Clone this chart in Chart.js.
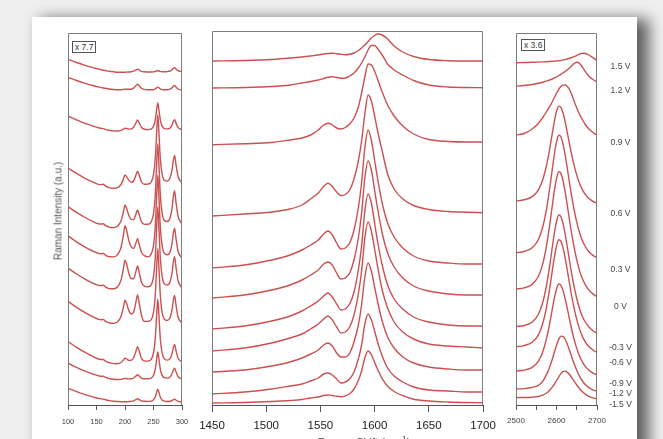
<!DOCTYPE html>
<html><head><meta charset="utf-8">
<script src="https://cdn.jsdelivr.net/npm/chart.js@4.4.1/dist/chart.umd.min.js"></script>
<style>
html,body{margin:0;padding:0;width:663px;height:439px;overflow:hidden;background:#efefef;font-family:"Liberation Sans",Arial,sans-serif;}
#card{position:absolute;left:32px;top:17px;width:605px;height:470px;background:#fff;box-shadow:10px 4px 14px 2px rgba(0,0,0,0.6);}
canvas{position:absolute;}
.box{position:absolute;border:1px solid #555;font-size:8.5px;color:#333;line-height:10px;padding:0 2px;background:#fff;}
.vl{position:absolute;font-size:8.5px;color:#444;transform:translate(-50%,-50%);white-space:nowrap;}
.ylab{position:absolute;left:57.5px;top:211px;transform:translate(-50%,-50%) rotate(-90deg);font-size:10px;color:#555;white-space:nowrap;}
.xlab{position:absolute;left:364px;top:434px;transform:translateX(-50%);font-size:11px;color:#444;white-space:nowrap;}
</style></head><body>
<div id="card"></div>
<canvas id="cL" width="154" height="404" style="left:48px;top:31px"></canvas>
<canvas id="cM" width="311" height="406" style="left:192px;top:29px"></canvas>
<canvas id="cR" width="121" height="404" style="left:496px;top:31px"></canvas>
<div class="box" style="left:72px;top:41px;">x 7.7</div>
<div class="box" style="left:521px;top:39px;">x 3.6</div>
<div class="ylab">Raman Intensity (a.u.)</div>
<div class="xlab">Raman Shift (cm<sup style="font-size:8px">-1</sup>)</div>
<div id="vlabels"></div>
<script>
// ---- categories / tick positions (cm^-1) ----
const lowShift = [100,115,130,145,155,159,162,165,172,180,187,193,197,200,203,207,211,215,219,222,225,229,234,240,246,250,253,255.5,257.5,259.5,262,265,269,274,279,282.5,285,287,289.5,293,300];
const gShift = [1450,1480,1505,1522,1533,1541,1548,1553,1557,1561,1565,1569,1573,1577,1581,1585,1588,1591,1594,1597,1600,1603,1607,1612,1618,1626,1636,1650,1668,1685,1700];
const twoDShift = [2500,2520,2540,2555,2566,2575,2583,2590,2596,2601,2606,2611,2616,2621,2627,2634,2642,2650,2657,2664,2671,2680,2690,2700];
const voltages = ['1.5 V','1.2 V','0.9 V','0.6 V','0.3 V','0 V','-0.3 V','-0.6 V','-0.9 V','-1.2 V','-1.5 V'];

// ---- low-frequency (RBM) region, offset intensities (a.u.) ----
const low_p15 = [345.7,342.5,339.6,337.1,335.7,335.2,334.8,334.5,333.7,333.2,332.8,332.8,332.8,332.8,332.9,333,333.2,333.8,334.9,335.8,335,333.7,333.2,333,333,333.1,333.5,334,334.5,334,333.6,333.3,333.2,333.4,334,335.2,336.8,337.4,336,334.3,333.4];
const low_p12 = [327.7,324.5,321.7,319.3,317.9,317.4,317,316.7,316,315.5,315.3,315.3,315.5,315.7,315.7,315.7,315.9,316.9,319.2,320.9,319.2,316.7,315.6,315.2,315.2,315.4,316,317.1,317.9,317.1,316,315.4,315.2,315.3,315.8,317.2,318.9,319.6,318,316,314.9];
const low_p09 = [289,285.1,281.6,278.7,277,276.6,276.4,275.7,274.8,274.1,274,274.6,275.8,276.8,276.5,275.9,276.1,277.8,281.9,285,282,277.5,275.7,275.4,276.1,278.8,284.7,295.1,302.1,295.1,284.9,279.1,276.4,276.1,277.1,280.1,283.9,285.3,281.9,277.6,275.2];
const low_p06 = [237,231.6,226.7,222.6,220.4,220.4,220.8,219.3,217.4,216.8,217.4,220.5,225.6,230,228.2,224.6,222.8,224,229.5,233.9,229.5,223,220.7,220.9,223.1,230.3,245.5,272.3,290.4,272.6,246.1,231.4,224.7,223.9,226.9,235.1,245.4,249.6,240.3,228.8,222.3];
const low_p03 = [198.4,192.6,187.5,183.1,181,181,181.3,179.8,177.9,177.4,178.9,184.1,192.5,199.7,196.3,189.2,185.6,185.4,190.6,195,190.1,183.1,180.6,180.7,183.1,191.4,209,240.2,261.4,240.5,209.6,192.4,184.5,183.5,187,196.7,209.1,214,202.7,188.9,180.9];
const low_0 = [169.1,163.2,157.9,153.5,151.4,151.3,151.6,150.1,148.2,148.1,150.3,157.5,169.2,179.2,174.2,163.9,158.1,156.6,161.7,166.3,160.6,152.5,149.4,148.1,151.2,159.4,177.1,208.6,229.9,208.7,177.3,159.8,151.6,150.2,153,161.5,172.4,176.7,166.5,154,146.7];
const low_m03 = [136.8,131,125.9,121.5,119.5,119.5,119.8,118.3,116.4,116.2,118.2,124.9,135.7,144.9,140.5,131.3,126.5,126.2,133.1,139,132.3,122.6,118.9,118.3,120.2,128.6,146.1,177.3,198.3,177.4,146.5,129.2,121.1,120,123.1,132.2,143.9,148.4,137.7,124.5,116.9];
const low_m06 = [103.7,97.6,92.3,87.8,85.4,85.3,85.6,84.1,82.1,81.6,83.2,88.5,97.3,104.8,101.3,94.1,91,92.7,102.4,110,101.7,89.5,83.6,83.6,85.3,92.7,108.7,137.3,156.6,137.4,109,93.1,85.7,84.5,87.2,95.2,105.4,109.5,100,88.3,81.5];
const low_m09 = [63.5,57.7,52.6,48.1,45.8,45.5,45.5,44.2,42.3,41.4,41.3,42.5,44.8,46.7,46,44.6,44.8,47.2,53.5,58.3,53.6,46.6,44.1,43.9,45.6,52,65.6,89.7,106,89.8,65.8,52.4,46.1,44.9,46.4,51.4,57.9,60.5,54.4,47,42.8];
const low_m12 = [41.8,37.6,33.9,30.7,29,28.7,28.7,27.8,26.5,25.7,25.5,25.6,26.2,26.6,26.4,26.1,26.2,27,28.9,30.3,28.9,26.9,26.2,26.2,27,29.7,35.6,46,53,46,35.7,29.9,27.3,26.9,28,31.2,35.3,36.9,33.1,28.5,25.7];
const low_m15 = [16.7,13.4,10.4,7.9,6.4,6.1,5.9,5.4,4.4,3.8,3.5,3.3,3.3,3.3,3.3,3.4,3.6,4.2,5.4,6.2,5.4,4.1,3.7,3.6,3.9,5.2,7.9,12.7,15.9,12.7,7.8,5.1,3.8,3.5,3.7,4.4,5.4,5.8,4.8,3.6,2.9];

// ---- G band region ----
const g_p15 = [344,344.5,345.5,347,348,349,350,351,351.5,351.7,351.3,350.6,350.3,350.8,352,354.5,357,360,363.5,367,369.5,371,370,366,359,353,348.5,345.5,344.3,344,344];
const g_p12 = [317,317.5,318.5,320,322,323.5,325,326.5,327.8,328.3,327.5,326.8,327,329,332,337,342,348,355,359.5,359.5,356,350,341,335,330,324.5,320,318,317.5,317.3];
const g_p09 = [260.3,261.3,262.5,265,267,270,275,280,281.7,280,277,276,277.5,281,287,298,312,328,341,340,334,325,313,300,289,279,271,265.5,263.5,263,263];
const g_p06 = [189,191,193,196,200,206,212,218.5,221.7,218.5,213,209.5,210.5,215,226,244,264,291,310,304,289,273,254,231,216,206,199.5,195.5,193.5,192.8,192.3];
const g_p03 = [137,140,145,150,155,160,165,171,174,170,162,156,157,162,175,197,222,257,275,265,245,225,202,182,168,157,149,144,142,141,141];
const g_0 = [107,110,115,120,125,130,135,141,143,140,132,126,127,132,145,167,192,227,244,235,215,195,172,152,138,127,119,114,111,110,110];
const g_m03 = [76,79,84,89,94,99,104,109,112,108,101,95,96,101,113,135,159,194,211,202,182,162,140,120,106,96,88,83,80,79,79];
const g_m06 = [54,57,62,67,71,76,81,86,89,85,78,72,73,78,90,111,134,167,183,174,156,137,115,97,83,73,66,61,59,58,57];
const g_m09 = [33,35,39,43,47,51,55,60,62,59,52,48,48,52,63,80,100,128,142,134,118,102,84,68,57,48,42,38,36,35,35];
const g_m12 = [11,13,16,19,21,24,27,31,32,30,26,22,23,26,33,46,60,81,91,85,74,62,49,37,29,23,18,15,14,13,13];
const g_m15 = [2,2.5,3.5,4.5,5.5,7,8,9.5,10,9.5,8.7,8.3,9.2,11.2,16,24.5,34,47.3,54,50.3,42.7,35,26.4,18.8,13.5,9.3,5.8,4,3,2.5,2.3];

// ---- 2D band region ----
const d_p15 = [342.3,342.5,342.7,342.9,343.1,343.3,343.5,343.7,343.9,344.1,344.3,344.6,345,345.4,346,347,348.2,349.6,350.9,351.7,351.5,350,347.3,344.5];
const d_p12 = [319,319.5,320.5,321.7,322.8,323.8,325,326,327.3,328.3,329.5,330.8,332,333.5,335.2,337.8,341,342.7,341.5,337.8,333.5,328.8,325.5,323.3];
const d_p09 = [270,271.5,276,281.5,287.5,293,298.5,303.5,308.5,312.5,316,318.5,319.8,320,318.5,314,305.5,297,290.5,285.5,280.5,276,272.5,269.5];
const d_p06 = [204,205.2,208.4,214.9,225.2,239,255.7,272.6,286.2,294.9,298.9,297.6,292.2,283.9,271.9,257.2,242.2,229.9,221.5,215.1,210.7,206.6,203.7,201.7];
const d_p03 = [152.3,153.5,157.3,165.3,178,195.2,216,237,254,264.9,269.8,268,261.2,250.8,235.7,217.3,198.3,182.9,172.2,164.2,158.5,153.3,149.6,147];
const d_0 = [116,117.1,120.6,128.5,141.1,158.4,179.3,200.4,217.4,228.2,233.3,231.4,224.5,213.8,198.7,180,160.8,145.1,134.4,126.2,120.4,114.9,111.1,108.3];
const d_m03 = [78.5,79.5,83,90.5,102.5,118.9,138.7,158.8,175,185.3,190,188.3,181.7,171.7,157.3,139.5,121.3,106.5,96.3,88.5,83,78,74.3,71.7];
const d_m06 = [58.3,59.4,62.7,69.9,81.5,97.2,116.1,135.3,150.7,160.6,165.2,163.6,157.3,147.7,133.9,117,99.7,85.6,75.9,68.4,63.2,58.4,55,52.5];
const d_m09 = [34,34.9,37.7,43.6,53,65.8,81.1,96.7,109.3,117.3,121,119.7,114.6,106.9,95.8,82,68,56.6,48.7,42.8,38.6,34.7,31.9,30];
const d_m12 = [16,16.4,17.6,19.7,23.7,30.1,37.8,46.2,54.4,60.8,66.1,68.9,68.7,66,60.5,52.5,43,34.7,28.7,24,20.5,17.4,15.1,13.6];
const d_m15 = [7.5,7.5,7.8,8.5,9.9,11.7,14.8,18.1,21.7,25.1,28.4,31.4,33.3,33.9,32.6,29.5,24.7,20,16.3,13.3,10.9,8.7,7.1,6];

const lowSeries = [low_p15,low_p12,low_p09,low_p06,low_p03,low_0,low_m03,low_m06,low_m09,low_m12,low_m15];
const gSeries = [g_p15,g_p12,g_p09,g_p06,g_p03,g_0,g_m03,g_m06,g_m09,g_m12,g_m15];
const dSeries = [d_p15,d_p12,d_p09,d_p06,d_p03,d_0,d_m03,d_m06,d_m09,d_m12,d_m15];

// ---- styling / layout ----
const LINE = 'rgb(204,80,80)';
const labelTops = [66,90,141.7,213,269,306,346.7,361.7,382.7,393.3,404];

const framePlugin = {
  id:'frame',
  afterDatasetsDraw(chart){
    const {ctx, chartArea:a} = chart;
    ctx.save();
    ctx.strokeStyle = '#7d7d7d'; ctx.lineWidth = 1;
    const l = Math.round(a.left)+0.5, r = Math.round(a.right)-0.5, t = Math.round(a.top)+0.5, b = Math.round(a.bottom);
    ctx.beginPath(); ctx.moveTo(l,b); ctx.lineTo(l,t); ctx.lineTo(r,t); ctx.lineTo(r,b); ctx.stroke();
    ctx.restore();
  }
};

function makeDatasets(xs, series){
  return series.map((ys,i)=>({
    label: voltages[i],
    data: xs.map((x,j)=>({x:x, y:ys[j]})),
    borderColor: LINE, borderWidth: 1.4, pointRadius: 0, fill:false,
    cubicInterpolationMode:'monotone'
  }));
}

function makeChart(id, xs, series, xmin, xmax, ymax, font, color, tickLen, tickPad, labelFn){
  return new Chart(document.getElementById(id), {
    type:'line',
    data:{datasets: makeDatasets(xs, series)},
    options:{
      responsive:false, animation:false, devicePixelRatio:1,
      layout:{padding:{left:20,right:20,top:2,bottom:0}},
      plugins:{legend:{display:false}, tooltip:{enabled:false}},
      scales:{
        x:{type:'linear', min:xmin, max:xmax, position:'bottom',
           ticks:{stepSize:50, font:font, color:color, padding:tickPad, maxRotation:0, autoSkip:false, callback:labelFn},
           grid:{drawOnChartArea:false, drawTicks:true, tickLength:tickLen, color:'#555'},
           border:{display:true, color:'#555', width:1},
           afterFit:(s)=>{ s.height = 30; }
        },
        y:{display:false, min:0, max:ymax}
      }
    },
    plugins:[framePlugin]
  });
}

const fam = '"Liberation Sans", Arial, sans-serif';
makeChart('cL', lowShift, lowSeries, 100, 300, 372, {family:fam, size:7.5}, '#444', 5, 7, v=>String(v));
makeChart('cM', gShift, gSeries, 1450, 1700, 374, {family:fam, size:11.5}, '#222', 7, 7, v=>String(v));
makeChart('cR', twoDShift, dSeries, 2500, 2700, 372, {family:fam, size:8}, '#444', 5, 6, v=> (v % 100 === 0 ? String(v) : ''));

const vl = document.getElementById('vlabels');
voltages.forEach((t,i)=>{
  const d = document.createElement('div');
  d.className = 'vl'; d.textContent = t;
  d.style.left = '620.5px'; d.style.top = labelTops[i] + 'px';
  vl.appendChild(d);
});
</script>
</body></html>
